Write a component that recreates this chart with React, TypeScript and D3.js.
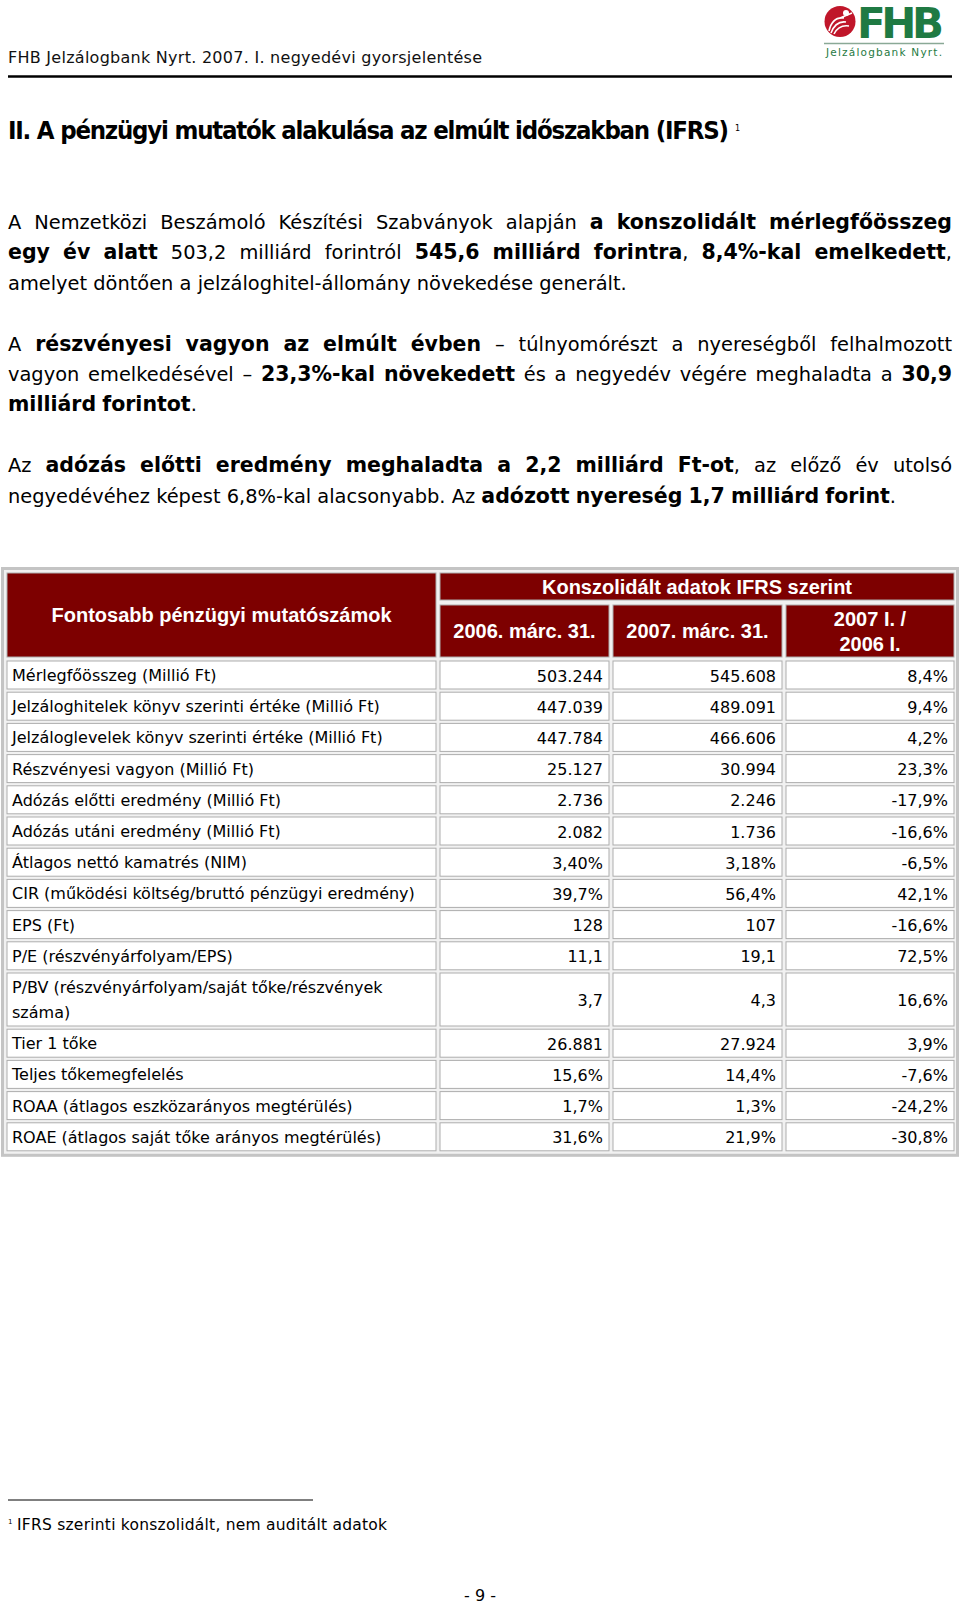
import React, { useEffect, useRef } from "react";
import * as d3 from "d3";

const W = 960;
const H = 1605;

const pageHeader = "FHB Jelzálogbank Nyrt. 2007. I. negyedévi gyorsjelentése";
const sectionTitle = "II. A pénzügyi mutatók alakulása az elmúlt időszakban (IFRS)";
const footnoteText = "IFRS szerinti konszolidált, nem auditált adatok";
const pageNumber = "- 9 -";
const logoName = "FHB";
const logoSub = "Jelzálogbank Nyrt.";

// [text, bold]
type Run = [string, boolean];

const para1: Run[][] = [
  [["A Nemzetközi Beszámoló Készítési Szabványok alapján ", false], ["a konszolidált mérlegfőösszeg", true]],
  [["egy év alatt", true], [" 503,2 milliárd forintról ", false], ["545,6 milliárd forintra", true], [", ", false], ["8,4%-kal emelkedett", true], [",", false]],
  [["amelyet döntően a jelzáloghitel-állomány növekedése generált.", false]],
];
const para2: Run[][] = [
  [["A ", false], ["részvényesi vagyon az elmúlt évben", true], [" – túlnyomórészt a nyereségből felhalmozott", false]],
  [["vagyon emelkedésével – ", false], ["23,3%-kal növekedett", true], [" és a negyedév végére meghaladta a ", false], ["30,9", true]],
  [["milliárd forintot", true], [".", false]],
];
const para3: Run[][] = [
  [["Az ", false], ["adózás előtti eredmény meghaladta a 2,2 milliárd Ft-ot", true], [", az előző év utolsó", false]],
  [["negyedévéhez képest 6,8%-kal alacsonyabb. Az ", false], ["adózott nyereség 1,7 milliárd forint", true], [".", false]],
];

const tableTitle = "Fontosabb pénzügyi mutatószámok";
const groupTitle = "Konszolidált adatok IFRS szerint";
const columnHeads = [["2006. márc. 31."], ["2007. márc. 31."], ["2007 I. /", "2006 I."]];

const rowLabels = [
  "Mérlegfőösszeg (Millió Ft)",
  "Jelzáloghitelek könyv szerinti értéke (Millió Ft)",
  "Jelzáloglevelek könyv szerinti értéke (Millió Ft)",
  "Részvényesi vagyon (Millió Ft)",
  "Adózás előtti eredmény (Millió Ft)",
  "Adózás utáni eredmény (Millió Ft)",
  "Átlagos nettó kamatrés (NIM)",
  "CIR (működési költség/bruttó pénzügyi eredmény)",
  "EPS (Ft)",
  "P/E (részvényárfolyam/EPS)",
  "P/BV (részvényárfolyam/saját tőke/részvények\nszáma)",
  "Tier 1 tőke",
  "Teljes tőkemegfelelés",
  "ROAA (átlagos eszközarányos megtérülés)",
  "ROAE (átlagos saját tőke arányos megtérülés)",
];
const values2006 = ["503.244", "447.039", "447.784", "25.127", "2.736", "2.082", "3,40%", "39,7%", "128", "11,1", "3,7", "26.881", "15,6%", "1,7%", "31,6%"];
const values2007 = ["545.608", "489.091", "466.606", "30.994", "2.246", "1.736", "3,18%", "56,4%", "107", "19,1", "4,3", "27.924", "14,4%", "1,3%", "21,9%"];
const changes = ["8,4%", "9,4%", "4,2%", "23,3%", "-17,9%", "-16,6%", "-6,5%", "42,1%", "-16,6%", "72,5%", "16,6%", "3,9%", "-7,6%", "-24,2%", "-30,8%"];

const BODY = "'DejaVu Sans', sans-serif";
const BOLD = "'Liberation Sans', Arial, sans-serif";
const NARROW = "'Liberation Sans Narrow', 'DejaVu Sans Condensed', sans-serif";
const MAROON = "#7d0000";
const GREEN = "#1f7a43";

export default function App() {
  const ref = useRef<SVGSVGElement>(null);

  useEffect(() => {
    const svg = d3.select(ref.current);
    svg.selectAll("*").remove();
    svg.append("rect").attr("width", W).attr("height", H).attr("fill", "#fff");

    const fit = (sel: any, w: number) => sel.attr("textLength", w).attr("lengthAdjust", "spacing");

    // logo
    const logo = svg.append("g");
    logo.append("circle").attr("cx", 840).attr("cy", 21.5).attr("r", 15.5).attr("fill", "#c0162a");
    logo.append("circle").attr("cx", 846).attr("cy", 13).attr("r", 3).attr("fill", "#fff");
    logo.append("path")
      .attr("d", "M829,31 C831,22 836,17 844,18 M831,33 C834,25 839,21 846,22 M834,34 C837,28 842,25 849,26 M840,18 L852,13")
      .attr("fill", "none").attr("stroke", "#fff").attr("stroke-width", 1.6);
    fit(logo.append("text").attr("x", 857).attr("y", 37.5).attr("font-family", BODY)
      .attr("font-weight", "bold").attr("font-size", 42).attr("fill", GREEN).text(logoName), 87);
    logo.append("line").attr("x1", 824).attr("x2", 944).attr("y1", 43.5).attr("y2", 43.5)
      .attr("stroke", "#8aa996").attr("stroke-width", 1.5);
    fit(logo.append("text").attr("x", 826).attr("y", 55.5).attr("font-family", BODY)
      .attr("font-size", 10.5).attr("fill", GREEN).text(logoSub), 116);

    // page header
    fit(svg.append("text").attr("x", 8).attr("y", 63).attr("font-family", BODY)
      .attr("font-size", 16).attr("fill", "#111").text(pageHeader), 474);
    svg.append("line").attr("x1", 8).attr("x2", 952).attr("y1", 76.5).attr("y2", 76.5)
      .attr("stroke", "#000").attr("stroke-width", 2.5);

    // section title
    const title = svg.append("text").attr("x", 8).attr("y", 138.5).attr("font-family", NARROW)
      .attr("font-weight", "bold").attr("font-size", 25.5).attr("fill", "#000").text(sectionTitle);
    fit(title, 721);
    svg.append("text").attr("x", 735).attr("y", 131).attr("font-family", BODY)
      .attr("font-size", 8).text("1");

    // paragraphs
    const bodySize = 19.4;
    const boldSize = 20.5;
    const lineH = 30.4;
    const x0 = 8;
    const textW = 944;
    const body = svg.append("g");

    const drawLine = (runs: Run[], y: number, justify: boolean) => {
      const words: Run[][] = [];
      let cur: Run[] = [];
      runs.forEach(([t, b]) => {
        t.split(" ").forEach((p, i) => {
          if (i > 0 && cur.length) { words.push(cur); cur = []; }
          if (p) cur.push([p, b]);
        });
      });
      if (cur.length) words.push(cur);
      const nodes = words.map((w) => {
        const t = body.append("text").attr("y", y).attr("fill", "#000");
        w.forEach(([s, b]) => {
          t.append("tspan").text(s)
            .attr("font-family", BODY)
            .attr("font-weight", b ? "bold" : "normal")
            .attr("font-size", b ? boldSize : bodySize);
        });
        return t;
      });
      const widths = nodes.map((n) => (n.node() as SVGTextElement).getComputedTextLength());
      const gap = justify && words.length > 1
        ? (textW - d3.sum(widths)) / (words.length - 1)
        : bodySize * 0.318;
      let x = x0;
      nodes.forEach((n, i) => { n.attr("x", x); x += widths[i] + gap; });
    };

    let lineIdx = 0;
    [para1, para2, para3].forEach((para) => {
      para.forEach((runs, i) => {
        drawLine(runs, 229 + lineIdx * lineH, i < para.length - 1);
        lineIdx++;
      });
      lineIdx++;
    });

    // table
    const colW = [429, 169, 169, 168];
    const colGap = 4;
    const tableX = 7;
    const colX = colW.map((_, i) => tableX + d3.sum(colW.slice(0, i)) + colGap * i);
    const colR = colX.map((x, i) => x + colW[i]);

    const headTop = 573;
    const bandH = 27;
    const subTop = 605;
    const headBottom = 657;
    const rowTop0 = 661;
    const rowGap = 3.2;
    const rowLines = rowLabels.map((l) => l.split("\n").length);
    const rowH = rowLines.map((n) => 28 + (n - 1) * 25);
    const rowTops = rowH.map((_, i) => rowTop0 + d3.sum(rowH.slice(0, i)) + rowGap * i);
    const tableBottom = rowTops[rowTops.length - 1] + rowH[rowH.length - 1];

    const tbl = svg.append("g");
    tbl.append("rect").attr("x", 2.5).attr("y", 568.5).attr("width", 955).attr("height", tableBottom - 568.5 + 4.5)
      .attr("fill", "#f1f1f1").attr("stroke", "#c4c4c4").attr("stroke-width", 3);

    const cell = (x: number, y: number, w: number, h: number, fill: string) =>
      tbl.append("rect").attr("x", x).attr("y", y).attr("width", w).attr("height", h)
        .attr("fill", fill).attr("stroke", "#adadad").attr("stroke-width", 1);

    // header
    cell(colX[0], headTop, colW[0], headBottom - headTop, MAROON);
    cell(colX[1], headTop, colR[3] - colX[1], bandH, MAROON);
    colX.slice(1).forEach((x, i) => cell(x, subTop, colW[i + 1], headBottom - subTop, MAROON));

    const headText = (x: number, y: number, s: string) =>
      tbl.append("text").attr("x", x).attr("y", y).attr("text-anchor", "middle")
        .attr("font-family", BOLD).attr("font-weight", "bold").attr("font-size", 20)
        .attr("fill", "#fff").text(s);

    headText(colX[0] + colW[0] / 2, 622, tableTitle);
    headText((colX[1] + colR[3]) / 2, 594, groupTitle);
    columnHeads.forEach((lines, i) => {
      const cx = colX[i + 1] + colW[i + 1] / 2;
      const mid = (subTop + headBottom) / 2;
      lines.forEach((s, j) => headText(cx, mid + 7 + (j - (lines.length - 1) / 2) * 25, s));
    });

    // body rows
    const cellSize = 16;
    const dataCols = [values2006, values2007, changes];
    rowLabels.forEach((label, r) => {
      const top = rowTops[r];
      const h = rowH[r];
      colX.forEach((x, c) => cell(x, top, colW[c], h, "#fff"));
      label.split("\n").forEach((s, j) => {
        tbl.append("text").attr("x", colX[0] + 5).attr("y", top + 20 + j * 25)
          .attr("font-family", BODY).attr("font-size", cellSize).attr("fill", "#000").text(s);
      });
      dataCols.forEach((vals, c) => {
        tbl.append("text").attr("x", colR[c + 1] - 6).attr("y", top + h / 2 + 6.5)
          .attr("text-anchor", "end").attr("font-family", BODY).attr("font-size", cellSize)
          .attr("fill", "#000").text(vals[r]);
      });
    });

    // footnote
    svg.append("line").attr("x1", 8).attr("x2", 313).attr("y1", 1500).attr("y2", 1500)
      .attr("stroke", "#000").attr("stroke-width", 1);
    svg.append("text").attr("x", 8).attr("y", 1524).attr("font-family", BODY).attr("font-size", 7).text("1");
    fit(svg.append("text").attr("x", 17).attr("y", 1530).attr("font-family", BODY)
      .attr("font-size", 15.5).text(footnoteText), 370);

    svg.append("text").attr("x", 480).attr("y", 1601).attr("text-anchor", "middle")
      .attr("font-family", BODY).attr("font-size", 16).text(pageNumber);
  }, []);

  return (
    <svg
      ref={ref}
      width={W}
      height={H}
      style={{ position: "absolute", left: 0, top: 0, display: "block" }}
    />
  );
}
